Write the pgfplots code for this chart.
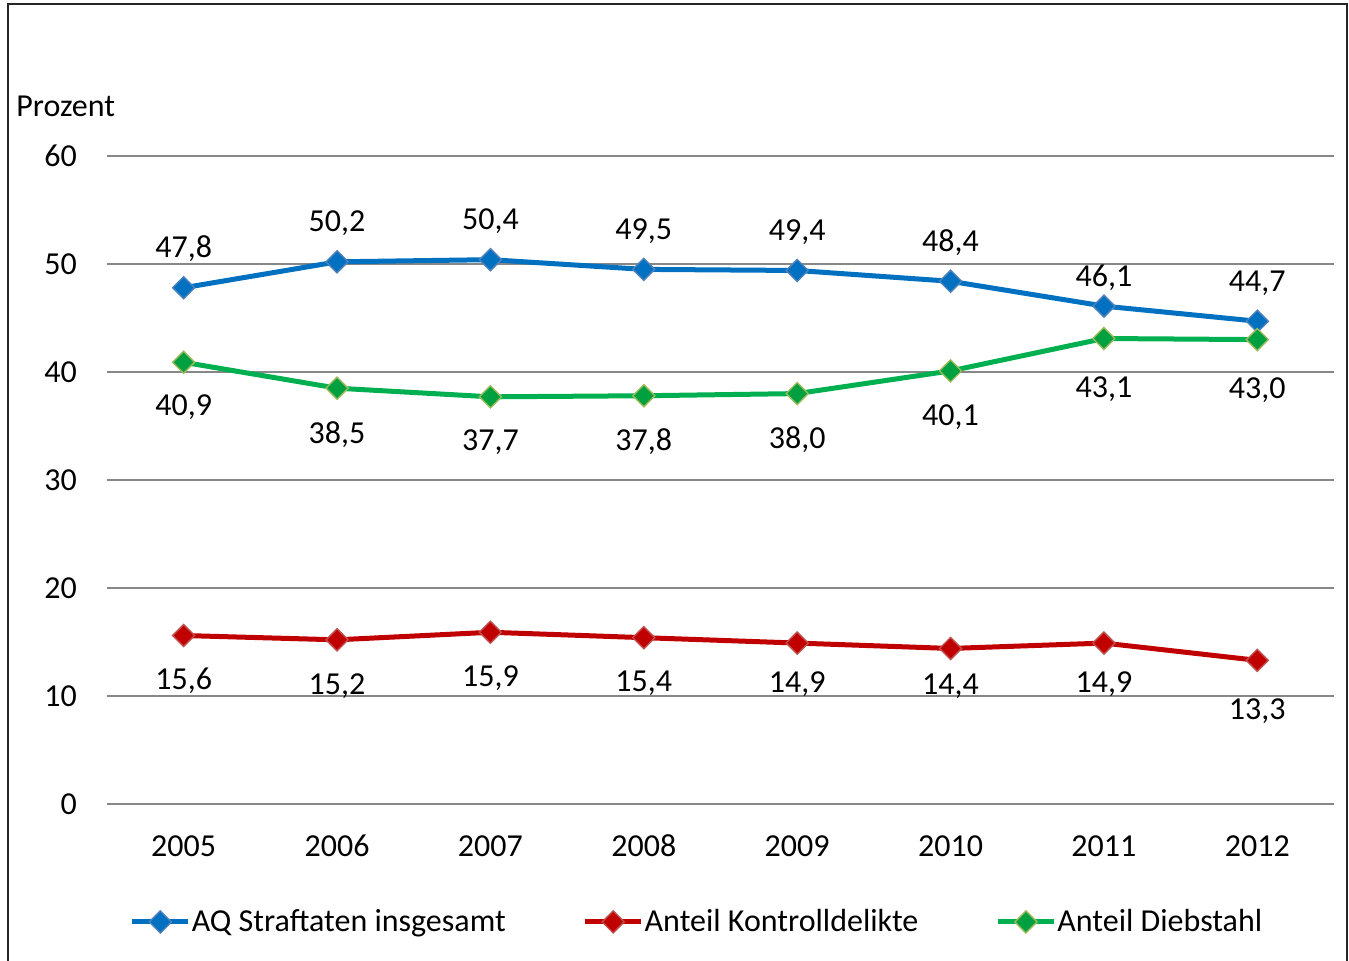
\documentclass[border=0pt]{standalone}
\usepackage{pgfplots}
\pgfplotsset{compat=1.18}
\usepackage{fontspec}
\setmainfont{Carlito}
\definecolor{cblue}{HTML}{0070C0}
\definecolor{cblueb}{HTML}{4F81BD}
\definecolor{cred}{HTML}{C00000}
\definecolor{credb}{HTML}{C0504D}
\definecolor{cgreen}{HTML}{00B050}
\definecolor{cgreenf}{HTML}{00A040}
\definecolor{cgreenb}{HTML}{9BBB59}
\definecolor{cgrid}{HTML}{878787}
\begin{document}
\begin{tikzpicture}[font=\fontsize{16pt}{19pt}\selectfont]
\useasboundingbox (0,0) rectangle (674.5pt,480.5pt);
\draw[line width=1pt, black!85] (4pt,-5pt) -- (4pt,478.3pt) -- (673.5pt,478.3pt) -- (673.5pt,-5pt);
\begin{axis}[
  at={(53.5pt,78.5pt)}, anchor=south west,
  scale only axis, width=613.5pt, height=324pt,
  xmin=-0.5, xmax=7.5, ymin=0, ymax=60,
  xtick={0,...,7},
  xticklabels={2005,2006,2007,2008,2009,2010,2011,2012},
  ytick={0,10,...,60},
  ymajorgrids, grid style={cgrid, line width=0.8pt},
  axis line style={draw=none},
  major tick length=0pt,
  /pgf/number format/assume math mode=true,
  ticklabel style={font=\fontsize{16pt}{19pt}\selectfont},
  xticklabel style={anchor=center, yshift=-21pt},
  yticklabel style={anchor=east, xshift=-11.5pt},
  legend columns=3,
  legend style={at={(0.4817,-0.182)}, anchor=center, draw=none, fill=none,
    font=\fontsize{16pt}{19pt}\selectfont,
    /tikz/every even column/.append style={column sep=36.5pt},
    /tikz/every odd column/.append style={column sep=-1.5pt},
    inner sep=0pt},
  legend image code/.code={\draw[mark repeat=2,mark phase=2] plot coordinates {(0pt,0pt)(14pt,0pt)(28pt,0pt)};},
  nodes near coords={\pgfmathprintnumber[fixed,fixed zerofill,precision=1,use comma,assume math mode=true]{\pgfplotspointmeta}},
  visualization depends on={\thisrow{s} \as \lshift},
  every node near coord/.append style={anchor=center, yshift=\lshift pt, text=black, font=\fontsize{16pt}{19pt}\selectfont},
  clip=false,
]
\addplot[cblue, line width=2.5pt, mark=square*, mark size=3.9pt,
  mark options={fill=cblue, draw=cblueb, line width=0.7pt, rotate=45}]
  table[x=x,y=y] {
x y s
0 47.8 19.5
1 50.2 19.5
2 50.4 19.5
3 49.5 19
4 49.4 19
5 48.4 19.5
6 46.1 14
7 44.7 19
};
\addlegendentry{AQ Straftaten insgesamt}
\addplot[cred, line width=2.5pt, mark=square*, mark size=3.9pt,
  mark options={fill=cred, draw=credb, line width=0.7pt, rotate=45}]
  table[x=x,y=y] {
x y s
0 15.6 -22.5
1 15.2 -23
2 15.9 -23
3 15.4 -23
4 14.9 -20.5
5 14.4 -19
6 14.9 -20.5
7 13.3 -25.5
};
\addlegendentry{Anteil Kontrolldelikte}
\addplot[cgreen, line width=2.5pt, mark=square*, mark size=3.9pt,
  mark options={fill=cgreenf, draw=cgreenb, line width=0.7pt, rotate=45}]
  table[x=x,y=y] {
x y s
0 40.9 -22.5
1 38.5 -23
2 37.7 -22.5
3 37.8 -23
4 38.0 -23
5 40.1 -23
6 43.1 -25.5
7 43.0 -25.5
};
\addlegendentry{Anteil Diebstahl}
\end{axis}
\node[anchor=west, inner sep=0pt] at (8pt,427.5pt) {Prozent};
\end{tikzpicture}
\end{document}
